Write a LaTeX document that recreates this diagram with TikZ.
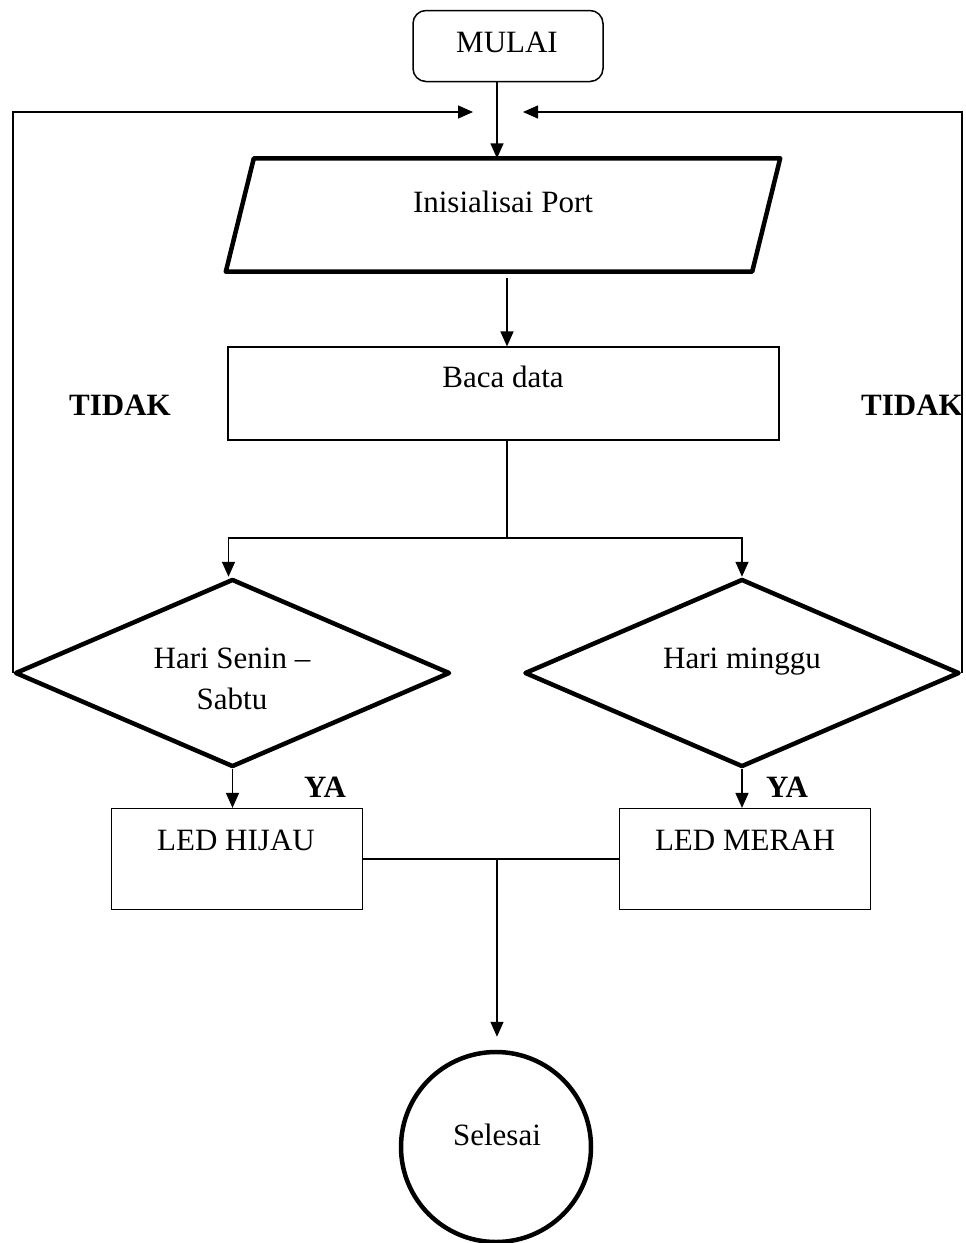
\documentclass[tikz,border=0pt]{standalone}
\usepackage{fontspec}
\setmainfont{Liberation Serif}
\usetikzlibrary{shapes.geometric,arrows.meta,positioning}

\tikzset{%
  flowtext/.style={font=\fontsize{31pt}{41pt}\selectfont, inner sep=0pt, align=center},
  flowlabel/.style={font=\fontsize{31pt}{41pt}\selectfont\bfseries, inner sep=0pt},
  termbox/.style={draw, rectangle, rounded corners=13pt, line width=1.5pt, minimum width=190pt, minimum height=71pt},
  procbox/.style={draw, rectangle, line width=1.2pt, minimum width=251pt, minimum height=101pt},
  parabox/.style={draw, line width=4.5pt, line join=round},
  decision/.style={draw, diamond, line width=4.5pt, line join=round, inner sep=0pt, minimum width=435pt, minimum height=188pt},
  endcircle/.style={draw, circle, line width=4.5pt, inner sep=0pt, minimum size=190pt},
  flowline/.style={line width=1.5pt},
  flowarrow/.style={line width=1.5pt, -{Triangle[length=15pt,width=13pt]}},
}

\begin{document}
\begin{tikzpicture}[x=1pt, y=-1pt]%
\useasboundingbox (0,0) rectangle (966,1243);%
% start
\node[termbox] (mulai) at (508,46) {};%
\node[flowtext, anchor=base] (t-mulai) at (507,52) {MULAI};%
% input
\node[inner sep=0pt, minimum width=526pt, minimum height=113pt] (inisial) at (503,215) {};%
\draw[parabox] ([xshift=-14pt]inisial.south west) -- ([xshift=14pt]inisial.north west) -- ([xshift=14pt]inisial.north east) -- ([xshift=-14pt]inisial.south east) -- cycle;%
\node[flowtext, anchor=base] (t-inisial) at (503,212) {Inisialisai Port};%
% process
\node[procbox, minimum width=551pt, minimum height=93pt] (baca) at (503.5,393.5) {};%
\node[flowtext, anchor=base] (t-baca) at (503,387) {Baca data};%
% decisions
\node[decision] (senin) at (232.5,673) {};%
\node[flowtext] (t-senin) at (232,679) {Hari Senin –\\Sabtu};%
\node[decision] (minggu) at (742,673) {};%
\node[flowtext, anchor=base] (t-minggu) at (742,668) {Hari minggu};%
% outputs
\node[procbox] (hijau) at (237,859) {};%
\node[flowtext, anchor=base] (t-hijau) at (236,850) {LED HIJAU};%
\node[procbox] (merah) at (745,859) {};%
\node[flowtext, anchor=base] (t-merah) at (745,850) {LED MERAH};%
% end
\node[endcircle] (selesai) at (496,1147) {};%
\node[flowtext, anchor=base] (t-selesai) at (497,1145) {Selesai};%
% branch labels
\node[flowlabel, anchor=base] (tidak-l) at (120,415) {TIDAK};%
\node[flowlabel, anchor=base] (tidak-r) at (912,415) {TIDAK};%
\node[flowlabel, anchor=base] (ya-l) at (325,797) {YA};%
\node[flowlabel, anchor=base] (ya-r) at (787,797) {YA};%
% junctions
\coordinate (loop-in) at (497,112);%
\coordinate (split) at (507,538);%
\coordinate (merge) at (497,859);%
% connectors
\draw[flowarrow] (mulai.south -| loop-in) -- (loop-in |- inisial.north);%
\draw[flowarrow] ([yshift=-6pt]inisial.south -| split) -- (baca.north -| split);%
\draw[flowline] (baca.south -| split) -- (split);%
\draw[flowarrow] (split) -| ([xshift=-4pt]senin.north);%
\draw[flowarrow] (split) -| (minggu.north);%
\draw[flowarrow] (senin.west) -- (senin.west |- loop-in) -- ([xshift=-24pt]loop-in);%
\draw[flowarrow] (minggu.east) -- (minggu.east |- loop-in) -- ([xshift=26pt]loop-in);%
\draw[flowarrow] (senin.south) -- (senin.south |- hijau.north);%
\draw[flowarrow] (minggu.south) -- (minggu.south |- merah.north);%
\draw[flowline] (hijau.east) -- (merah.west);%
\draw[flowarrow, shorten >=13pt] (merge) -- (merge |- selesai.north);%
\end{tikzpicture}
\end{document}
